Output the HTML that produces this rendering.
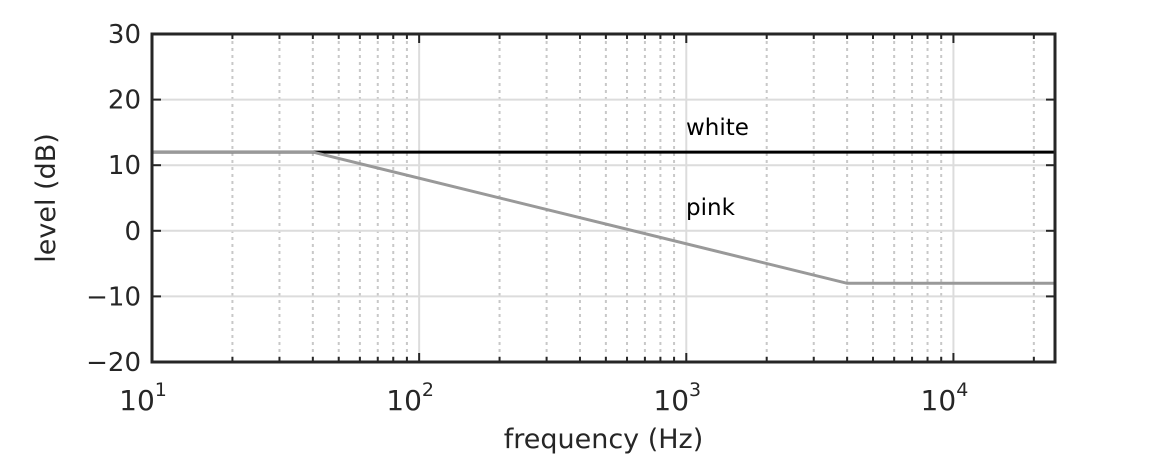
<!DOCTYPE html>
<html><head><meta charset="utf-8"><style>
body{margin:0;background:#fff;}
svg text{font-family:"DejaVu Sans","Liberation Sans",sans-serif;fill:#262626;}
</style></head><body>
<svg id="chart" width="1167" height="458"></svg>
<script>
const xMin=10, xMax=24000, yMin=-20, yMax=30;
const yTicks=[30,20,10,0,-10,-20];
const yTickLabels=["30","20","10","0","\u221210","\u221220"];
const xDecades=[1,2,3,4];
const whiteFreq=[10,24000];
const whiteLevel=[12,12];
const pinkFreq=[10,40,4000,24000];
const pinkLevel=[12,12,-8,-8];
const L=152,R=1055,T=34,B=362;
const sx=f=>L+(Math.log10(f)-Math.log10(xMin))/(Math.log10(xMax)-Math.log10(xMin))*(R-L);
const sy=v=>B-(v-yMin)/(yMax-yMin)*(B-T);
const svg=document.getElementById('chart');
const NS='http://www.w3.org/2000/svg';
function mk(tag,attrs,parent){const e=document.createElementNS(NS,tag);for(const k in attrs)e.setAttribute(k,attrs[k]);(parent||svg).appendChild(e);return e;}
for(let d=1;d<=4;d++){for(let m=1;m<10;m++){const f=m*Math.pow(10,d);if(f>xMax)break;const x=sx(f);
 if(m===1){if(d>1){const g=mk('line',{x1:x,x2:x,y1:T,y2:B,stroke:'#dcdcdc','stroke-width':2});
 }}
 else{const g=mk('line',{x1:x,x2:x,y1:T,y2:B,stroke:'#c8c8c8','stroke-width':2,'stroke-dasharray':'3 4'});
 }
 const tk=mk('line',{x1:x,x2:x,y1:B,y2:B-(m===1?9:5),stroke:'#262626','stroke-width':2});
 const tk2=mk('line',{x1:x,x2:x,y1:T,y2:T+(m===1?9:5),stroke:'#262626','stroke-width':2});
}}
yTicks.forEach((v,i)=>{const y=sy(v);
 if(v!==yMin&&v!==yMax){const g=mk('line',{x1:L,x2:R,y1:y,y2:y,stroke:'#dcdcdc','stroke-width':2});}
 const t1=mk('line',{x1:L,x2:L+9,y1:y,y2:y,stroke:'#262626','stroke-width':2});
 const t2=mk('line',{x1:R,x2:R-9,y1:y,y2:y,stroke:'#262626','stroke-width':2});
 const tx=mk('text',{x:L-11,y:y+9,'text-anchor':'end','font-size':26});tx.textContent=yTickLabels[i];
 
});
xDecades.forEach(d=>{const x=sx(Math.pow(10,d));
 const tx=mk('text',{x:x-9,y:410,'text-anchor':'middle','font-size':28});tx.textContent='10';
 const sp=mk('tspan',{dy:-14,'font-size':19},tx);sp.textContent=String(d);
 
});
function line(fs,vs,color,name){const p=mk('polyline',{points:fs.map((f,i)=>sx(f)+','+sy(vs[i])).join(' '),fill:'none',stroke:color,'stroke-width':3});
 }
line(whiteFreq,whiteLevel,'#000','white-noise-line');
line(pinkFreq,pinkLevel,'#999999','pink-noise-line');
const a=mk('rect',{x:L,y:T,width:R-L,height:B-T,fill:'none',stroke:'#262626','stroke-width':3});

const lw=mk('text',{x:686,y:135,'font-size':23,style:'fill:#000'});lw.textContent='white';

const lp=mk('text',{x:686,y:215,'font-size':23,style:'fill:#000'});lp.textContent='pink';

const xt=mk('text',{x:(L+R)/2,y:448,'text-anchor':'middle','font-size':27});xt.textContent='frequency (Hz)';

const yt=mk('text',{x:0,y:0,'text-anchor':'middle','font-size':27,transform:'translate(55,'+(T+B)/2+') rotate(-90)'});yt.textContent='level (dB)';

</script>
</body></html>
